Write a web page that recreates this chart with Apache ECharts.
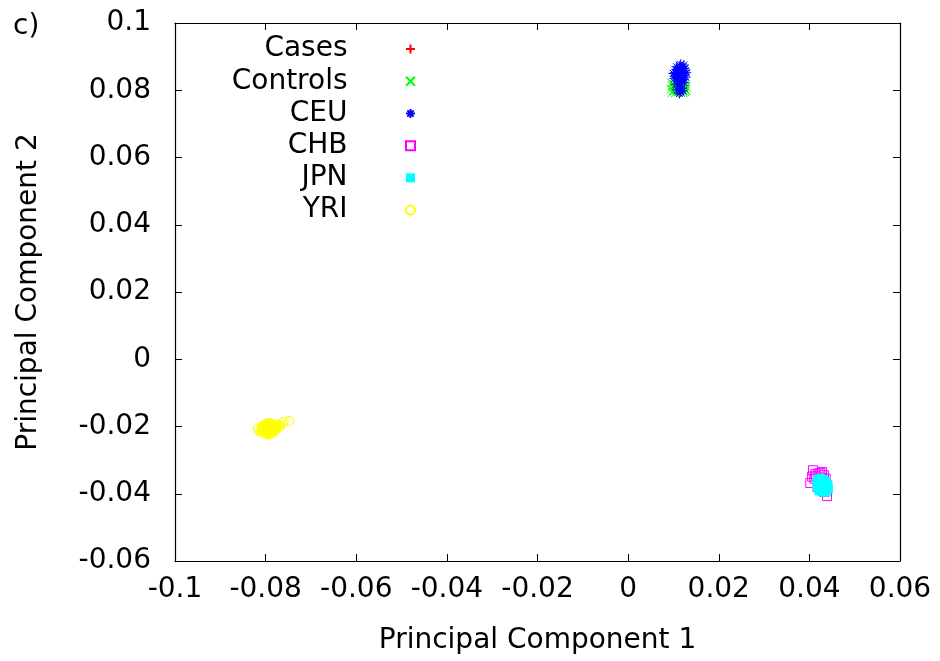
<!DOCTYPE html>
<html>
<head>
<meta charset="utf-8">
<script src="https://cdn.jsdelivr.net/npm/echarts@6/dist/echarts.min.js"></script>
<style>
  html, body { margin: 0; padding: 0; background: #fff; }
  #chart { width: 940px; height: 661px; }
</style>
</head>
<body>
<div id="chart"></div>
<script>
// axis ticks
var xMin = -0.1, xMax = 0.06, xStep = 0.02
var yMin = -0.06, yMax = 0.1, yStep = 0.02

var seriesNames = ['Cases', 'Controls', 'CEU', 'CHB', 'JPN', 'YRI']

// points (pc1, pc2)
var casesPts = [
  [0.0102, 0.0815], [0.0110, 0.0805], [0.0118, 0.0812], [0.0106, 0.0797], [0.0122, 0.0802],
  [0.0114, 0.0820], [0.0100, 0.0806], [0.0125, 0.0815], [0.0108, 0.0819], [0.0116, 0.0799]
]
var controlsPts = [
  [0.0096, 0.0822], [0.0101, 0.0818], [0.0107, 0.0821], [0.0113, 0.0816], [0.0119, 0.0820],
  [0.0125, 0.0817], [0.0128, 0.0810], [0.0097, 0.0812], [0.0103, 0.0808], [0.0109, 0.0811],
  [0.0115, 0.0806], [0.0121, 0.0809], [0.0126, 0.0803], [0.0095, 0.0803], [0.0100, 0.0799],
  [0.0106, 0.0802], [0.0112, 0.0798], [0.0118, 0.0801], [0.0124, 0.0796], [0.0098, 0.0794],
  [0.0104, 0.0792], [0.0110, 0.0795], [0.0116, 0.0793], [0.0122, 0.0792], [0.0127, 0.0799],
  [0.0099, 0.0815], [0.0111, 0.0823], [0.0123, 0.0813], [0.0105, 0.0826], [0.0117, 0.0827]
]
var ceuPts = [
  [0.0112, 0.0855], [0.0118, 0.0862], [0.0106, 0.0848], [0.0122, 0.0851], [0.0115, 0.0868],
  [0.0109, 0.0858], [0.0125, 0.0845], [0.0103, 0.0841], [0.0119, 0.0838], [0.0113, 0.0845],
  [0.0108, 0.0836], [0.0126, 0.0858], [0.0110, 0.0866], [0.0121, 0.0870], [0.0116, 0.0850],
  [0.0104, 0.0853], [0.0124, 0.0864], [0.0111, 0.0842], [0.0117, 0.0835], [0.0107, 0.0862],
  [0.0114, 0.0872], [0.0120, 0.0844], [0.0102, 0.0835], [0.0127, 0.0839], [0.0113, 0.0830],
  [0.0118, 0.0826], [0.0109, 0.0828], [0.0122, 0.0832], [0.0115, 0.0820], [0.0112, 0.0812],
  [0.0119, 0.0806], [0.0108, 0.0801], [0.0116, 0.0795], [0.0121, 0.0798], [0.0113, 0.0790],
  [0.0106, 0.0818], [0.0124, 0.0822], [0.0111, 0.0859], [0.0117, 0.0857], [0.0105, 0.0845],
  [0.0100, 0.0850], [0.0128, 0.0852], [0.0107, 0.0870], [0.0123, 0.0875], [0.0116, 0.0877]
]
var chbPts = [
  [0.0408, -0.0330], [0.0402, -0.0368], [0.0428, -0.0335], [0.0439, -0.0407], [0.0420, -0.0340],
  [0.0432, -0.0345], [0.0415, -0.0348], [0.0425, -0.0352], [0.0436, -0.0355], [0.0411, -0.0355],
  [0.0422, -0.0362], [0.0430, -0.0372], [0.0418, -0.0380], [0.0427, -0.0390], [0.0435, -0.0385],
  [0.0406, -0.0349], [0.0424, -0.0338], [0.0419, -0.0370], [0.0433, -0.0395], [0.0413, -0.0342]
]
var jpnPts = [
  [0.0418, -0.0355], [0.0425, -0.0352], [0.0432, -0.0356], [0.0438, -0.0362], [0.0416, -0.0365],
  [0.0422, -0.0362], [0.0429, -0.0366], [0.0436, -0.0370], [0.0442, -0.0372], [0.0415, -0.0375],
  [0.0421, -0.0372], [0.0427, -0.0376], [0.0433, -0.0378], [0.0440, -0.0381], [0.0418, -0.0385],
  [0.0424, -0.0383], [0.0430, -0.0387], [0.0437, -0.0389], [0.0443, -0.0386], [0.0420, -0.0392],
  [0.0426, -0.0395], [0.0432, -0.0397], [0.0438, -0.0396], [0.0428, -0.0358], [0.0435, -0.0365],
  [0.0423, -0.0369], [0.0431, -0.0382], [0.0426, -0.0390]
]
var yriPts = [
  [-0.0817, -0.0208], [-0.0761, -0.0187], [-0.0748, -0.0184], [-0.0808, -0.0200], [-0.0803, -0.0195],
  [-0.0798, -0.0192], [-0.0792, -0.0190], [-0.0786, -0.0192], [-0.0780, -0.0195], [-0.0810, -0.0210],
  [-0.0804, -0.0206], [-0.0798, -0.0203], [-0.0792, -0.0200], [-0.0786, -0.0198], [-0.0779, -0.0200],
  [-0.0773, -0.0197], [-0.0806, -0.0216], [-0.0800, -0.0213], [-0.0794, -0.0210], [-0.0788, -0.0207],
  [-0.0782, -0.0206], [-0.0776, -0.0203], [-0.0770, -0.0195], [-0.0801, -0.0220], [-0.0795, -0.0219],
  [-0.0789, -0.0216], [-0.0783, -0.0213], [-0.0777, -0.0209], [-0.0796, -0.0224], [-0.0790, -0.0222],
  [-0.0784, -0.0219], [-0.0812, -0.0215], [-0.0768, -0.0200], [-0.0801, -0.0198], [-0.0795, -0.0196],
  [-0.0789, -0.0194], [-0.0783, -0.0201], [-0.0797, -0.0206], [-0.0791, -0.0204], [-0.0785, -0.0210],
  [-0.0779, -0.0205], [-0.0803, -0.0209], [-0.0799, -0.0216], [-0.0793, -0.0213], [-0.0787, -0.0212],
  [-0.0807, -0.0204], [-0.0792, -0.0217], [-0.0796, -0.0200], [-0.0781, -0.0209], [-0.0775, -0.0199]
]

var font = 'DejaVu Sans'
var plusPath = 'path://M0,5L10,5M5,0L5,10'
var crossPath = 'path://M0,0L10,10M10,0L0,10'
var starPath = 'path://M0,5L10,5M5,0L5,10M1.5,1.5L8.5,8.5M8.5,1.5L1.5,8.5'
var squarePath = 'path://M0,0L10,0L10,10L0,10Z'

function strokeSeries(name, data, symbol, color, size) {
  return {
    name: name,
    type: 'scatter',
    data: data,
    symbol: symbol,
    symbolSize: size,
    itemStyle: { color: 'transparent', borderColor: color, borderWidth: 1, opacity: 1 }
  }
}

var chart = echarts.init(document.getElementById('chart'))

var axisCommon = {
  type: 'value',
  axisLine: { show: true, onZero: false, lineStyle: { color: '#000', width: 1.2 } },
  axisTick: { show: true, inside: true, length: 7, lineStyle: { color: '#000', width: 1 } },
  splitLine: { show: false }
}

var option = {
  backgroundColor: '#fff',
  animation: false,
  title: {
    text: 'c)',
    left: 8,
    top: 8,
    textStyle: { fontFamily: font, fontSize: 28, fontWeight: 'normal', color: '#000' }
  },
  grid: { left: 175, right: 40, top: 23, bottom: 100 },
  legend: {
    orient: 'vertical',
    right: 519,
    top: 28,
    align: 'right',
    itemWidth: 116,
    itemHeight: 9,
    itemGap: 0,
    symbolKeepAspect: true,
    selectedMode: false,
    data: seriesNames,
    textStyle: { fontFamily: font, fontSize: 28, color: '#000', lineHeight: 32.2 }
  },
  xAxis: [
    Object.assign({}, axisCommon, {
      min: xMin, max: xMax, interval: xStep,
      position: 'bottom',
      name: 'Principal Component 1',
      nameLocation: 'middle',
      nameGap: 66,
      nameTextStyle: { fontFamily: font, fontSize: 28, color: '#000' },
      axisLabel: { fontFamily: font, fontSize: 28, color: '#000', margin: 15 }
    }),
    Object.assign({}, axisCommon, {
      min: xMin, max: xMax, interval: xStep,
      position: 'top',
      axisLabel: { show: false }
    })
  ],
  yAxis: [
    Object.assign({}, axisCommon, {
      min: yMin, max: yMax, interval: yStep,
      position: 'left',
      name: 'Principal Component 2',
      nameLocation: 'middle',
      nameGap: 132,
      nameTextStyle: { fontFamily: font, fontSize: 28, color: '#000' },
      axisLabel: { fontFamily: font, fontSize: 28, color: '#000', margin: 24 }
    }),
    Object.assign({}, axisCommon, {
      min: yMin, max: yMax, interval: yStep,
      position: 'right',
      axisLabel: { show: false }
    })
  ],
  series: [
    strokeSeries('Cases', casesPts, plusPath, '#ff0000', 9),
    strokeSeries('Controls', controlsPts, crossPath, '#00ff00', 9),
    strokeSeries('CEU', ceuPts, starPath, '#0000ff', 10),
    strokeSeries('CHB', chbPts, squarePath, '#ff00ff', 9),
    {
      name: 'JPN',
      type: 'scatter',
      data: jpnPts,
      symbol: squarePath,
      symbolSize: 8,
      itemStyle: { color: '#00ffff', opacity: 1 }
    },
    {
      name: 'YRI',
      type: 'scatter',
      data: yriPts,
      symbol: 'circle',
      symbolSize: 9,
      itemStyle: { color: 'transparent', borderColor: '#ffff00', borderWidth: 1.2, opacity: 1 }
    }
  ]
}

chart.setOption(option)
</script>
</body>
</html>
